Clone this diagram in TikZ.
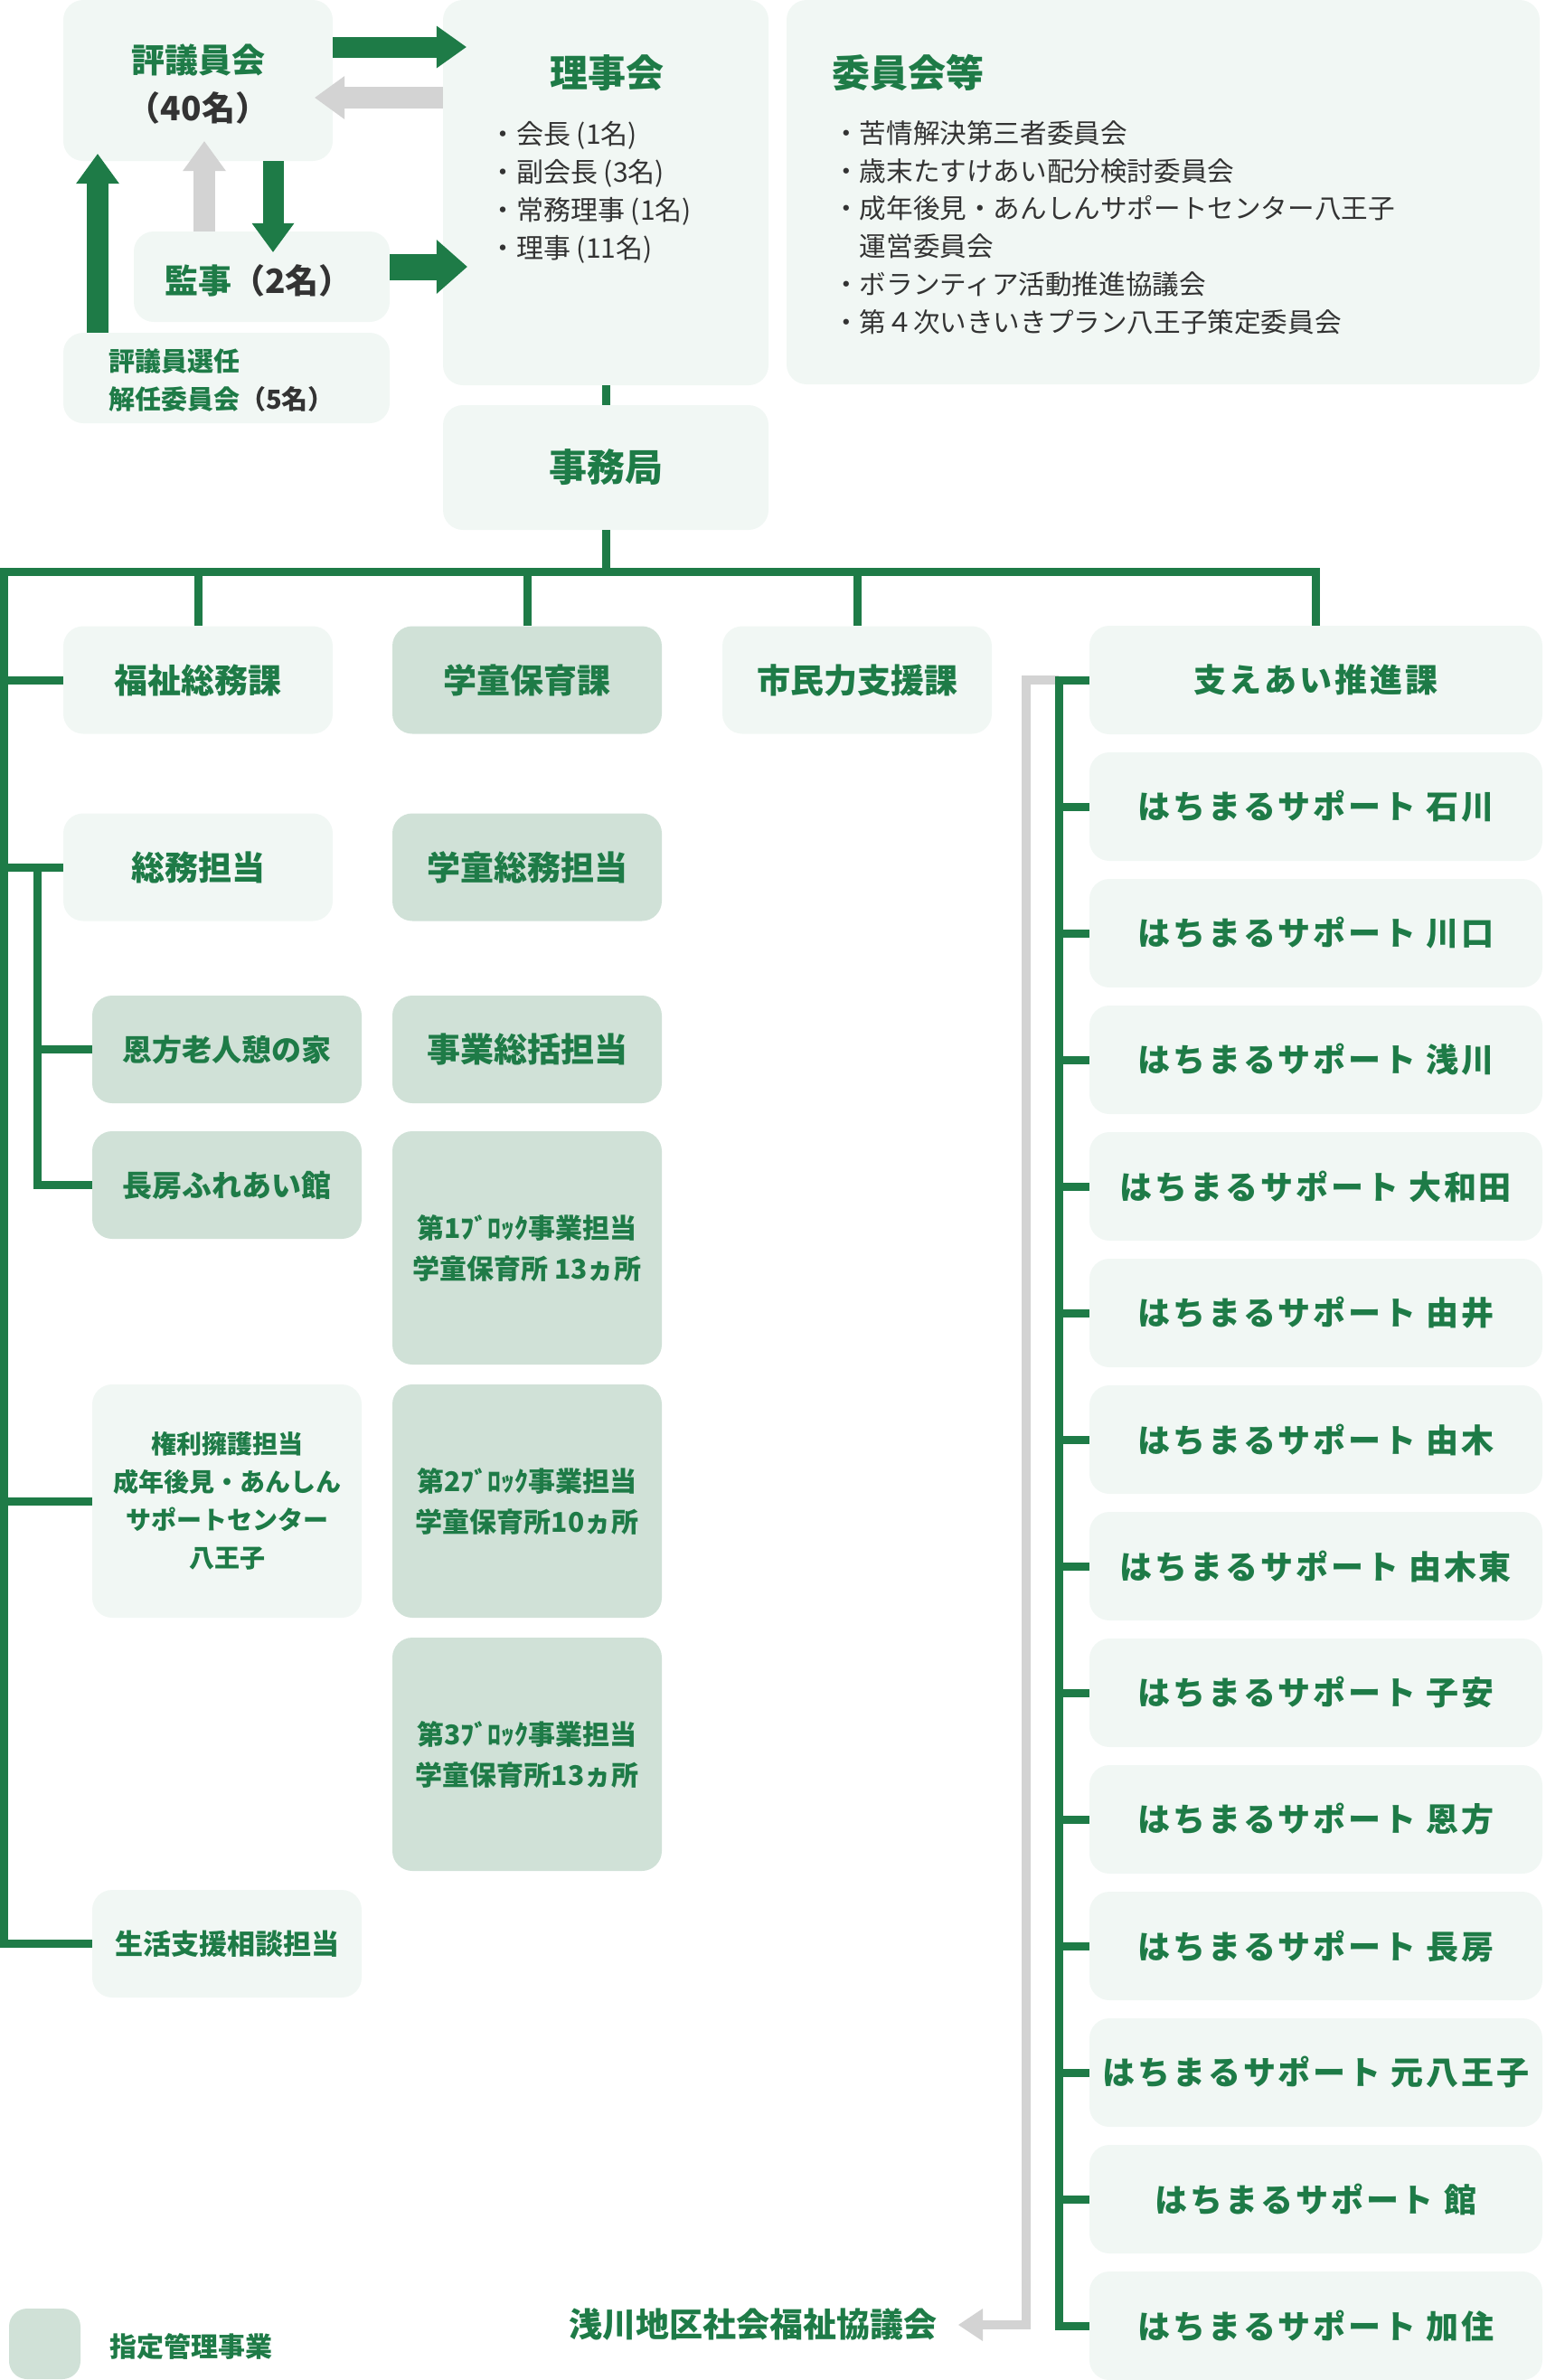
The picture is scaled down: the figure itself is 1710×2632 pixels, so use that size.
\documentclass[tikz,border=0pt]{standalone}
\usepackage{fontspec}
\setmainfont{Noto Sans CJK JP}
\newfontfamily\lsfont[LetterSpace=8]{Noto Sans CJK JP}
\usetikzlibrary{arrows.meta,calc}
\definecolor{gr}{HTML}{1E7B47}
\definecolor{lf}{HTML}{F1F7F4}
\definecolor{df}{HTML}{D0E1D7}
\definecolor{gy}{HTML}{D3D3D3}
\definecolor{dk}{HTML}{333333}
\newcommand\fsz[2]{\fontsize{#1pt}{#2pt}\selectfont}
\begin{document}
\begin{tikzpicture}[x=1pt,y=-1pt,
  lbox/.style={rectangle, rounded corners=22pt, inner sep=0pt, fill=lf, text=gr, align=center, font=\bfseries\fsz{37}{45}},
  dbox/.style={lbox, fill=df},
  colbox/.style={minimum width=298pt, minimum height=119pt},
  tallbox/.style={minimum width=298pt, minimum height=258pt},
  txt/.style={inner sep=0pt, text=gr, font=\bfseries\fsz{37}{45}},
  lst/.style={inner sep=0pt, anchor=west, align=left, text=dk, font=\fsz{30}{42}},
  tree/.style={draw=gr, line width=9pt},
  hachi/.style={lbox, minimum width=501pt, minimum height=120pt, font=\lsfont\bfseries\fsz{36}{45}},
]
\path[use as bounding box] (0,0) rectangle (1710,2632);

% ---------- top boxes ----------
\node[lbox, minimum width=298pt, minimum height=178pt] (hyogi) at (219,89) {};
\node[txt, align=center, font=\bfseries\fsz{37}{53}] (hyogit) at (219,93) {評議員会\\{\color{dk}（40名）}};
\node[lbox, minimum width=360pt, minimum height=426pt] (riji) at (670,213) {};
\node[txt, font=\bfseries\fsz{42}{50}] (rijit) at (671,81) {理事会};
\node[lst] (rijil) at (541,213) {・会長 (1名)\\・副会長 (3名)\\・常務理事 (1名)\\・理事 (11名)};
\node[lbox, minimum width=833pt, minimum height=425pt] (iin) at (1286.5,212.5) {};
\node[txt, anchor=west, font=\bfseries\fsz{42}{50}] (iint) at (920,80) {委員会等};
\node[lst, font=\fsz{29.6}{41.8}] (iinl) at (921,251.5) {・苦情解決第三者委員会\\・歳末たすけあい配分検討委員会\\・成年後見・あんしんサポートセンター八王子\\　運営委員会\\・ボランティア活動推進協議会\\・第４次いきいきプラン八王子策定委員会};
\node[lbox, minimum width=283pt, minimum height=100pt] (kanji) at (289.5,306) {};
\node[txt] (kanjit) at (286,310) {監事{\color{dk}（2名）}};
\node[lbox, minimum width=361pt, minimum height=100pt] (senin) at (250.5,418) {};
\node[txt, anchor=west, align=left, font=\bfseries\fsz{29}{42}] (senint) at (120,421) {評議員選任\\解任委員会{\color{dk}（5名）}};
\node[lbox, minimum width=360pt, minimum height=138pt, font=\bfseries\fsz{42}{50}] (jimu) at (670,517) {事務局};

% ---------- block arrows ----------
\draw[draw=gr, line width=23pt, -{Triangle[length=33pt,width=47pt,line width=0pt]}]
  (hyogi.east |- 0,52) -- ($(riji.west |- 0,52)+(26,0)$);
\draw[draw=gy, line width=24pt, -{Triangle[length=33pt,width=48pt,line width=0pt]}]
  (riji.west |- 0,108) -- ($(hyogi.east |- 0,108)+(-20,0)$);
\draw[draw=gy, line width=24pt, -{Triangle[length=33pt,width=48pt,line width=0pt]}]
  (kanji.north -| 226,0) -- ($(hyogi.south -| 226,0)+(0,-22)$);
\draw[draw=gr, line width=23pt, -{Triangle[length=32pt,width=47pt,line width=0pt]}]
  (hyogi.south -| 302,0) -- ($(kanji.north -| 302,0)+(0,23)$);
\draw[draw=gr, line width=29pt, -{Triangle[length=34pt,width=60pt,line width=0pt]}]
  (kanji.east |- 0,295) -- ($(riji.west |- 0,295)+(27,0)$);
\draw[draw=gr, line width=24pt, -{Triangle[length=33pt,width=48pt,line width=0pt]}]
  (senin.north -| 108,0) -- ($(hyogi.south -| 108,0)+(0,-8)$);

% ---------- section boxes ----------
\node[lbox, colbox] (fuku) at (219,752) {福祉総務課};
\node[dbox, colbox] (gaku) at (583,752) {学童保育課};
\node[lbox, colbox] (shimin) at (948,752) {市民力支援課};
\node[lbox, minimum width=501pt, minimum height=120pt, font=\lsfont\bfseries\fsz{36}{45}] (sasae) at (1455.5,752) {支えあい推進課};

\node[lbox, colbox] (somu) at (219,959) {総務担当};
\node[dbox, colbox] (gsomu) at (583,959) {学童総務担当};
\node[dbox, colbox, font=\bfseries\fsz{33}{40}] (onkata) at (251,1160.5) {恩方老人憩の家};
\node[dbox, colbox] (jigyo) at (583,1160.5) {事業総括担当};
\node[dbox, colbox, font=\bfseries\fsz{33}{40}] (nagafusa) at (251,1310.5) {長房ふれあい館};
\node[dbox, tallbox, font=\bfseries\fsz{30}{45}] (blk1) at (583,1380) {第1ﾌﾞﾛｯｸ事業担当\\学童保育所 13ヵ所};
\node[lbox, tallbox, font=\bfseries\fsz{28}{42}] (kenri) at (251,1660) {権利擁護担当\\成年後見・あんしん\\サポートセンター\\八王子};
\node[dbox, tallbox, font=\bfseries\fsz{30}{45}] (blk2) at (583,1660) {第2ﾌﾞﾛｯｸ事業担当\\学童保育所10ヵ所};
\node[dbox, tallbox, font=\bfseries\fsz{30}{45}] (blk3) at (583,1940) {第3ﾌﾞﾛｯｸ事業担当\\学童保育所13ヵ所};
\node[lbox, colbox, font=\bfseries\fsz{31}{40}] (seikatsu) at (251,2149.5) {生活支援相談担当};

\foreach \i/\t in {1/石川,2/川口,3/浅川,4/大和田,5/由井,6/由木,7/由木東,8/子安,9/恩方,10/長房,11/元八王子,12/館,13/加住}
  \node[hachi] (h\i) at (1455.5,{752+140*\i}) {はちまるサポート \t};

% ---------- legend & label ----------
\node[dbox, minimum width=79pt, minimum height=78pt, rounded corners=20pt] (legbox) at (49.5,2592) {};
\node[txt, anchor=west, font=\bfseries\fsz{30}{36}] (legt) at (121,2595) {指定管理事業};
\node[txt, anchor=east] (asakawa) at (1037,2570) {浅川地区社会福祉協議会};

% ---------- tree connectors ----------
\coordinate (bus) at (0,632);
\coordinate (lspine) at (4.5,632);
\coordinate (sub) at (41,959);
\coordinate (rtop) at (1171,752);
\coordinate (gcor) at (1135,2571);

\draw[draw=gy, line width=10pt, -{Triangle[length=27pt,width=36pt,line width=0pt]}]
  (rtop) -| (gcor) -- ($(asakawa.east |- gcor)+(23,0)$);

\draw[tree] (riji.south) -- (jimu.north);
\draw[tree] (jimu.south) -- (jimu.south |- bus);
\draw[tree] (seikatsu.west) -| (lspine) -| (sasae.north);
\foreach \n in {fuku,gaku,shimin} \draw[tree] (\n.north) -- (\n.north |- bus);
\foreach \n in {fuku,somu,kenri} \draw[tree] (\n.west) -- (\n.west -| lspine);
\draw[tree] (nagafusa.west) -| (sub);
\draw[tree] (onkata.west) -- (onkata.west -| sub);
\draw[tree] (h13.west) -| (rtop) -- (sasae.west);
\foreach \i in {1,...,12} \draw[tree] (h\i.west) -- (h\i.west -| rtop);
\end{tikzpicture}
\end{document}
